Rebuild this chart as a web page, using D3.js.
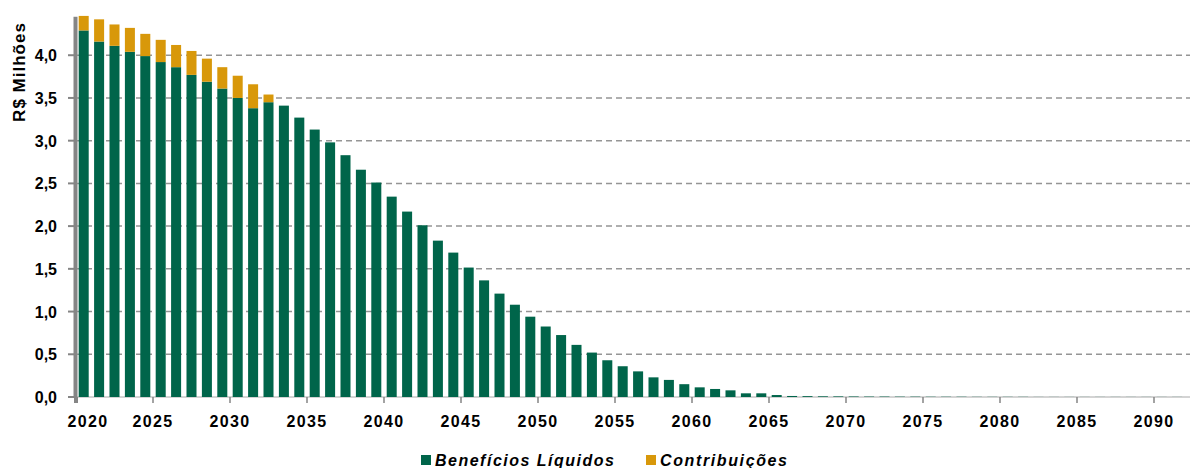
<!DOCTYPE html>
<html>
  <head>
    <meta charset="utf-8" />
    <script src="https://d3js.org/d3.v7.min.js"></script>
    <style>
      body { margin: 0; background: #fff; }
      text { font-family: "Liberation Sans", Arial, sans-serif; font-weight: bold; fill: #000; }
    </style>
  </head>
  <body>
    <svg id="chart"></svg>
    <script>
      // Years on the category axis
      var years = d3.range(2020, 2092);

      // Benefícios Líquidos (R$ milhões)
      var beneficios = [
        4.29, 4.16, 4.11, 4.04, 3.99, 3.92, 3.86, 3.77, 3.69, 3.61,
        3.50, 3.38, 3.45, 3.41, 3.27, 3.13, 2.98, 2.83, 2.66, 2.51,
        2.345, 2.17, 2.01, 1.83, 1.69, 1.515, 1.365, 1.21, 1.08, 0.94,
        0.825, 0.725, 0.61, 0.52, 0.43, 0.36, 0.30, 0.23, 0.20, 0.15,
        0.113, 0.094, 0.078, 0.043, 0.043, 0.023, 0.012, 0.01, 0.008, 0.007,
        0.006, 0.005, 0.005, 0.004, 0.004, 0.003, 0.003, 0.003, 0.002, 0.002,
        0.002, 0.002, 0.001, 0.001, 0.001, 0.001, 0.001, 0.001, 0.001, 0.001,
        0.001, 0.001
      ];

      // Contribuições (R$ milhões), stacked on top
      var contribuicoes = [
        0.17, 0.26, 0.25, 0.28, 0.26, 0.26, 0.26, 0.28, 0.27, 0.25,
        0.26, 0.28, 0.09
      ];

      var yTicks = [0, 0.5, 1, 1.5, 2, 2.5, 3, 3.5, 4];
      var xTickYears = d3.range(2020, 2091, 5);

      var seriesNames = ["Benefícios Líquidos", "Contribuições"];
      var colors = ["#00654A", "#D8980A"];

      var width = 1190;
      var height = 468;
      var left = 76;
      var step = 15.4;

      var svg = d3.select("#chart").attr("width", width).attr("height", height);

      // Scales
      var x = d3
        .scaleBand()
        .domain(years)
        .range([left, left + years.length * step])
        .paddingInner(0.35)
        .paddingOuter(0.175);

      var y = d3.scaleLinear().domain([0, 4.5]).range([397, 12.5]);

      var rows = years.map(function (yr, i) {
        return {
          year: yr,
          b: beneficios[i] || 0,
          c: contribuicoes[i] || 0
        };
      });
      var stack = d3.stack().keys(["b", "c"])(rows);

      // Dashed gridlines
      svg
        .append("g")
        .selectAll("line")
        .data(yTicks.filter((d) => d > 0))
        .join("line")
        .attr("x1", left)
        .attr("x2", width)
        .attr("y1", (d) => y(d))
        .attr("y2", (d) => y(d))
        .style("stroke", "#959595")
        .style("stroke-width", 1.5)
        .style("stroke-dasharray", "6,4");

      // Baseline
      svg
        .append("line")
        .attr("x1", left)
        .attr("x2", width)
        .attr("y1", y(0))
        .attr("y2", y(0))
        .style("stroke", "#a8a8a8")
        .style("stroke-width", 1);

      // Stacked bars
      svg
        .append("g")
        .selectAll("g")
        .data(stack)
        .join("g")
        .attr("fill", (d, i) => colors[i])
        .selectAll("rect")
        .data((d) => d)
        .join("rect")
        .attr("x", (d) => x(d.data.year))
        .attr("width", x.bandwidth())
        .attr("y", (d) => y(d[1]))
        .attr("height", (d) => Math.max(0, y(d[0]) - y(d[1])));

      // Y axis wall (thick gray line)
      svg
        .append("rect")
        .attr("x", left - 2.5)
        .attr("y", y(4.45))
        .attr("width", 4)
        .attr("height", y(0) - y(4.45) + 1)
        .attr("fill", "#858585");

      // Y ticks and labels
      var yAxis = svg.append("g");
      yAxis
        .selectAll("line")
        .data(yTicks)
        .join("line")
        .attr("x1", left - 8)
        .attr("x2", left - 2)
        .attr("y1", (d) => y(d))
        .attr("y2", (d) => y(d))
        .style("stroke", "#858585")
        .style("stroke-width", 2);
      yAxis
        .selectAll("text")
        .data(yTicks)
        .join("text")
        .attr("x", left - 19)
        .attr("y", (d) => y(d) + 6)
        .attr("text-anchor", "end")
        .style("font-size", "16px")
        .text((d) => d3.format(".1f")(d).replace(".", ","));

      // Y axis title
      svg
        .append("text")
        .attr("transform", "translate(25,72) rotate(-90)")
        .attr("text-anchor", "middle")
        .style("font-size", "17px")
        .style("letter-spacing", "1px")
        .text("R$ Milhões");

      // X ticks between categories, every 5 years
      var tickX = (yr) => x(yr) - x.step() * x.paddingInner() / 2;
      var xAxis = svg.append("g");
      xAxis
        .selectAll("line")
        .data(xTickYears)
        .join("line")
        .attr("x1", (d) => tickX(d))
        .attr("x2", (d) => tickX(d))
        .attr("y1", y(0))
        .attr("y2", y(0) + 6)
        .style("stroke", "#858585")
        .style("stroke-width", (d, i) => (i === 0 ? 4 : 1.5));
      xAxis
        .selectAll("text")
        .data(xTickYears)
        .join("text")
        .attr("x", (d, i) => (i === 0 ? tickX(d) + 12 : tickX(d)))
        .attr("y", 427)
        .attr("text-anchor", "middle")
        .style("font-size", "16px")
        .style("letter-spacing", "1.3px")
        .text((d) => d);

      // Legend
      var legendPos = [[421, 614], [646, 787]];
      var legend = svg
        .append("g")
        .selectAll("g")
        .data(seriesNames)
        .join("g")
        .attr("transform", (d, i) => `translate(${legendPos[i][0]}, 466)`);
      legend
        .append("rect")
        .attr("x", 0)
        .attr("y", -11)
        .attr("width", 10)
        .attr("height", 10)
        .attr("fill", (d, i) => colors[i]);
      legend
        .append("text")
        .attr("x", 14)
        .attr("y", 0)
        .style("font-size", "16px")
        .style("font-style", "italic")
        .attr("textLength", (d, i) => legendPos[i][1] - legendPos[i][0] - 14)
        .attr("lengthAdjust", "spacing")
        .text((d) => d);
    </script>
  </body>
</html>
